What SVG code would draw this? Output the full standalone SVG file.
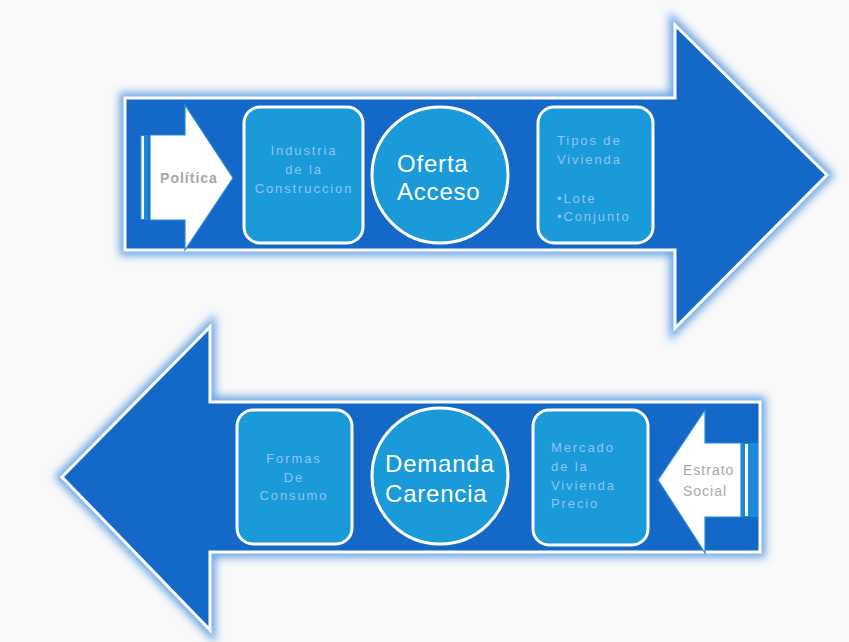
<svg xmlns="http://www.w3.org/2000/svg" width="849" height="642" viewBox="0 0 849 642">
<defs>
<filter id="glow" x="-10%" y="-10%" width="120%" height="120%"><feGaussianBlur stdDeviation="4"/></filter>
<style>
.big{fill:#1468c8;stroke:#fff;stroke-width:3;stroke-linejoin:miter}
.halo{fill:none;stroke:#4d94e0;stroke-width:11;opacity:0.85}
.box{fill:#1a9ad8;stroke:#fff;stroke-width:3}
.small{font-family:"Liberation Sans",Arial,sans-serif;font-size:13px;fill:#8fc4f2;letter-spacing:1.9px}
.title{font-family:"Liberation Sans",Arial,sans-serif;font-size:24px;fill:#fff;letter-spacing:0.8px}
.gray{font-family:"Liberation Sans",Arial,sans-serif;font-size:14px;fill:#a8a8a8;letter-spacing:1px}
.warrow{fill:#fff;stroke:#2a8ad8;stroke-width:1.2}
</style>
</defs>
<rect width="849" height="642" fill="#f9f9f9"/>
<g id="connectors"></g>
<g id="top-arrow">
<polygon class="halo" filter="url(#glow)" points="125,98 675,98 675,25 827,175 675,328 675,250 125,250"/>
<polygon class="big" points="125,98 675,98 675,25 827,175 675,328 675,250 125,250"/>
</g>
<g id="bottom-arrow">
<polygon class="halo" filter="url(#glow)" points="760,402 210,402 210,327 62,477 210,630 210,552 760,552"/>
<polygon class="big" points="760,402 210,402 210,327 62,477 210,630 210,552 760,552"/>
</g>
<g id="politica">
<rect x="140" y="135" width="8" height="85" fill="#1a8ad8"/>
<rect x="141.5" y="136" width="2.5" height="83" fill="#fff"/>
<polygon class="warrow" points="150,135 185,135 185,105 233,178 185,250 185,220 150,220"/>
<text class="gray" x="189" y="183" text-anchor="middle" font-weight="bold">Política</text>
</g>
<g id="industria">
<rect class="box" x="244" y="107" width="119" height="136" rx="16"/>
<text class="small" text-anchor="middle"><tspan x="304" y="155">Industria</tspan><tspan x="304" y="174">de la</tspan><tspan x="304" y="193">Construccion</tspan></text>
</g>
<g id="oferta">
<circle class="box" cx="440" cy="175" r="68"/>
<text class="title"><tspan x="397" y="172">Oferta</tspan><tspan x="397" y="200">Acceso</tspan></text>
</g>
<g id="tipos">
<rect class="box" x="538" y="107" width="115" height="136" rx="16"/>
<text class="small" letter-spacing="1.3"><tspan x="557" y="145">Tipos de</tspan><tspan x="557" y="164">Vivienda</tspan><tspan x="557" y="203">•Lote</tspan><tspan x="557" y="221">•Conjunto</tspan></text>
</g>
<g id="formas">
<rect class="box" x="237" y="410" width="115" height="134" rx="16"/>
<text class="small" text-anchor="middle"><tspan x="294" y="463">Formas</tspan><tspan x="294" y="482">De</tspan><tspan x="294" y="500">Consumo</tspan></text>
</g>
<g id="demanda">
<circle class="box" cx="440" cy="476" r="68"/>
<text class="title" letter-spacing="2.8"><tspan x="385" y="472">Demanda</tspan><tspan x="385" y="502">Carencia</tspan></text>
</g>
<g id="mercado">
<rect class="box" x="533" y="410" width="115" height="135" rx="16"/>
<text class="small"><tspan x="551" y="452">Mercado</tspan><tspan x="551" y="471">de la</tspan><tspan x="551" y="490">Vivienda</tspan><tspan x="551" y="508">Precio</tspan></text>
</g>
<g id="estrato">
<rect x="740" y="443" width="18" height="74" fill="#1a8ad8"/>
<rect x="745" y="444" width="3" height="72" fill="#fff"/>
<polygon class="warrow" points="741,443 705,443 705,410 658,480 705,553 705,517 741,517"/>
<text class="gray" font-size="15"><tspan x="683" y="475">Estrato</tspan><tspan x="683" y="496">Social</tspan></text>
</g>
</svg>
